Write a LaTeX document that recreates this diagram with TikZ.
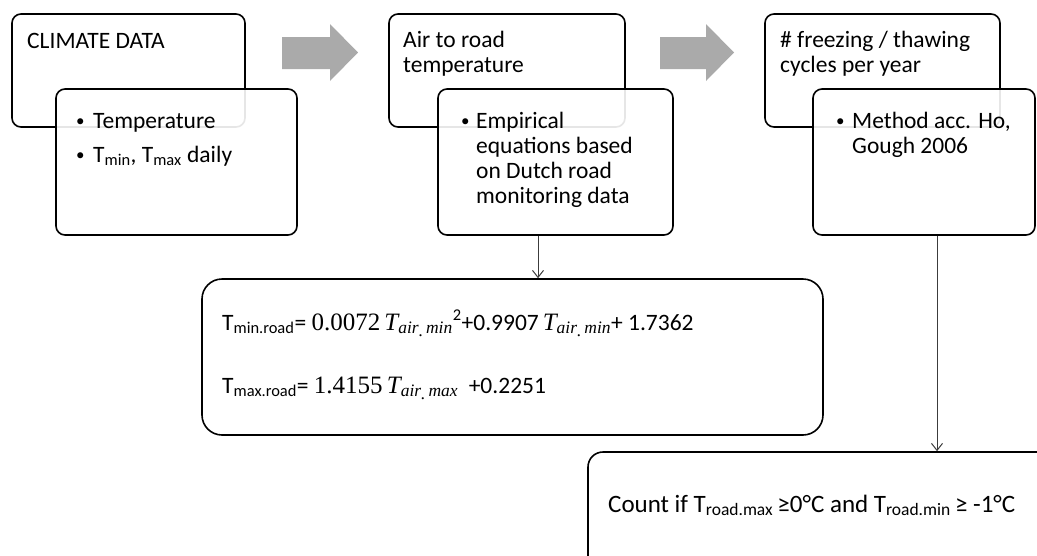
\documentclass[tikz,border=0pt]{standalone}
\usepackage[no-math]{fontspec}
\setmainfont{Carlito}
\newfontfamily\eqserif{Liberation Serif}
\usetikzlibrary{fit,arrows.meta}
\newcommand\varT[1]{{\eqserif\itshape T}\textsubscript{\eqserif\itshape air\raisebox{-3pt}{.}\,#1}}
\newcommand\serifpart{\eqserif\fontsize{25}{27}\selectfont}
\tikzset{
  box/.style={draw=black, line width=1.6pt, rounded corners=9pt, inner sep=0pt},
  frontbox/.style={box, fill=white, fill opacity=0.9},
  txt/.style={anchor=base west, inner sep=0pt, font=\fontsize{23.5}{25}\selectfont},
  bul/.style={anchor=base west, inner sep=0pt, font=\fontsize{17}{20}\selectfont},
  eqtxt/.style={anchor=base west, inner sep=0pt, font=\fontsize{23.5}{26}\selectfont},
  cnttxt/.style={anchor=base west, inner sep=0pt, font=\fontsize{25}{28}\selectfont},
  link/.style={draw={rgb,255:red,60;green,60;blue,60}, line width=1pt, -{Straight Barb[length=7pt,width=11pt]}},
  blockarrow/.style={fill={rgb,255:red,170;green,170;blue,170}}
}
\begin{document}
\begin{tikzpicture}[x=1pt,y=-1pt]
\useasboundingbox (0,0) rectangle (1037,555);
\clip (0,0) rectangle (1037,555);
% block arrows
\fill[blockarrow] (282,37) -- (330,37) -- (330,24) -- (358,52.5) -- (330,81) -- (330,69) -- (282,69) -- cycle;
\fill[blockarrow] (660,37) -- (706,37) -- (706,24) -- (734,52.5) -- (706,81) -- (706,69) -- (660,69) -- cycle;
% column 1
\node[box, fit={(12,14) (245,127)}] (b1) {};
\node[txt] (t1) at (27,48) {CLIMATE DATA};
\node[frontbox, fit={(56,89) (297,235)}] (f1) {};
\node[bul] (p1a) at (76,126) {•};
\node[txt] (q1a) at (93,128) {Temperature};
\node[bul] (p1b) at (76,160) {•};
\node[txt] (q1b) at (93,162) {T\textsubscript{min}, T\textsubscript{max} daily};
% column 2
\node[box, fit={(389,14) (625,127)}] (b2) {};
\node[txt] (t2) at (403,47) {\parbox[t]{200pt}{Air to road\\temperature}};
\node[frontbox, fit={(438,89) (673,235)}] (f2) {};
\node[bul] (p2a) at (461,126) {•};
\node[txt] (q2a) at (476,128) {\parbox[t]{190pt}{Empirical\\equations based\\on Dutch road\\monitoring data}};
% column 3
\node[box, fit={(765,14) (1000,127)}] (b3) {};
\node[txt] (t3) at (780,47) {\parbox[t]{220pt}{\# freezing / thawing\\cycles per year}};
\node[frontbox, fit={(813,89) (1035,235)}] (f3) {};
\node[bul] (p3a) at (836,126) {•};
\node[txt] (q3a) at (852,128) {\parbox[t]{180pt}{Method acc. Ho,\\Gough 2006}};
% equation box
\node[box, rounded corners=20pt, fit={(202,279) (823,435)}] (eq) {};
\node[eqtxt] (e1) at (222,330) {T\textsubscript{min.road}= {\serifpart 0.0072\,\varT{min}}\textsuperscript{2}+0.9907\,{\serifpart\varT{min}}+ 1.7362};
\node[eqtxt] (e2) at (222,393) {T\textsubscript{max.road}= {\serifpart 1.4155\,\varT{max}}\ \ +0.2251};
% count box
\node[box, rounded corners=15pt, fit={(588,452) (1060,580)}] (cnt) {};
\node[cnttxt] (ct) at (608,512) {Count if T\textsubscript{road.max}\,≥0°C and T\textsubscript{road.min}\,≥ -1°C};
% connectors
\coordinate (c2) at (538,0);
\coordinate (c3) at (937,0);
\draw[link] (c2 |- f2.south) -- (c2 |- eq.north);
\draw[link] (c3 |- f3.south) -- (c3 |- cnt.north);
\end{tikzpicture}
\end{document}
